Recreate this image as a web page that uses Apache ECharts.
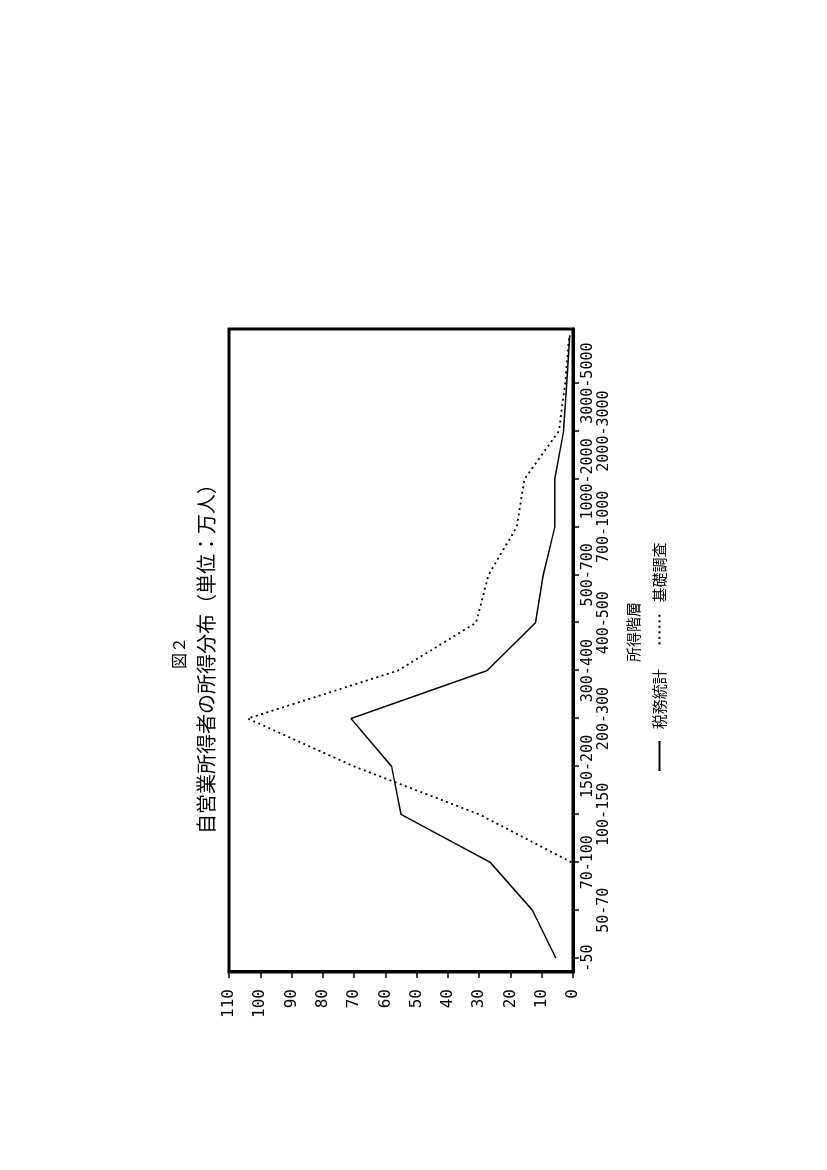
<!DOCTYPE html>
<html>
<head>
<meta charset="utf-8">
<script src="https://cdn.jsdelivr.net/npm/echarts@6/dist/echarts.min.js"></script>
<style>
html,body{margin:0;padding:0;width:827px;height:1170px;overflow:hidden;background:#fff}
#c{position:absolute;left:0;top:0;width:1170px;height:827px;transform-origin:0 0;transform:translate(0,1170px) rotate(-90deg);}
</style>
</head>
<body>
<div id="c"></div>
<script>
// Data
const categories = ['-50','50-70','70-100','100-150','150-200','200-300','300-400','400-500','500-700','700-1000','1000-2000','2000-3000','3000-5000','5000~'];
const taxStats = [5.5, 13, 26.5, 55, 58, 71, 27.5, 12, 9.5, 5.8, 5.8, 3, 2, 1];        // 税務統計 (solid)
const basicSurvey = [null, null, 0.5, 30, 70, 104, 56, 31, 27, 18, 15.5, 4.5, 2.5, 1.2]; // 基礎調査 (dotted)
const seriesNames = ['税務統計', '基礎調査'];
const titleMain = '自営業所得者の所得分布（単位：万人）';
const figLabel = '図２';
const axisName = '所得階層';
const valueMin = 0, valueMax = 110, valueStep = 10;

const idx = categories.map((c, i) => i);
const jp = '"Noto Sans CJK JP", sans-serif';
const mono = '"DejaVu Sans Mono", monospace';

const chart = echarts.init(document.getElementById('c'), null, {renderer: 'canvas'});
chart.setOption({
  animation: false,
  backgroundColor: '#fff',
  title: [
    {text: figLabel, left: 517, top: 171, textAlign: 'center', padding: 0,
     textStyle: {fontSize: 16, fontWeight: 'normal', fontFamily: jp, color: '#000'}},
    {text: titleMain, left: 516, top: 196, textAlign: 'center', padding: 0,
     textStyle: {fontSize: 20, fontWeight: 'normal', fontFamily: jp, color: '#000'}},
    {text: axisName, left: 538, top: 626, textAlign: 'center', padding: 0,
     textStyle: {fontSize: 15, fontWeight: 'normal', fontFamily: jp, color: '#000'}}
  ],
  legend: {
    left: 398, top: 652, padding: 0,
    itemWidth: 30, itemHeight: 14, itemGap: 24,
    data: seriesNames,
    formatter: n => '  ' + n,
    itemStyle: {opacity: 0},
    lineStyle: {opacity: 1},
    textStyle: {fontSize: 15, fontFamily: jp, color: '#000'}
  },
  grid: {
    left: 198, right: 329, top: 229, bottom: 254,
    show: true, borderColor: '#000', borderWidth: 3,
    outerBoundsMode: 'none'
  },
  xAxis: {
    type: 'value', min: -0.29, max: 13.13,
    splitLine: {show: false},
    axisLine: {show: true, onZero: false, lineStyle: {color: '#000', width: 3}},
    axisTick: {show: true, customValues: idx, length: 6, lineStyle: {color: '#000', width: 1.5}},
    axisLabel: {
      customValues: idx,
      formatter: v => (v % 2 === 1 ? '\n' : '') + categories[v],
      margin: 7, fontSize: 15, lineHeight: 16, color: '#000', fontFamily: mono
    }
  },
  yAxis: {
    type: 'value', min: valueMin, max: valueMax, interval: valueStep,
    splitLine: {show: false},
    axisLine: {show: true, onZero: false, lineStyle: {color: '#000', width: 3}},
    axisTick: {show: true, length: 6, lineStyle: {color: '#000', width: 1.5}},
    axisLabel: {margin: 17, fontSize: 16, color: '#000', fontFamily: mono}
  },
  series: [
    {
      name: seriesNames[0], type: 'line', symbol: 'none',
      data: taxStats.map((v, i) => [i, v]),
      lineStyle: {color: '#000', width: 1.5},
      itemStyle: {color: '#000'}
    },
    {
      name: seriesNames[1], type: 'line', symbol: 'none',
      data: basicSurvey.map((v, i) => [i, v]).filter(d => d[1] !== null),
      lineStyle: {color: '#000', width: 1.8, type: [2, 3.5]},
      itemStyle: {color: '#000'}
    }
  ]
});
</script>
</body>
</html>
